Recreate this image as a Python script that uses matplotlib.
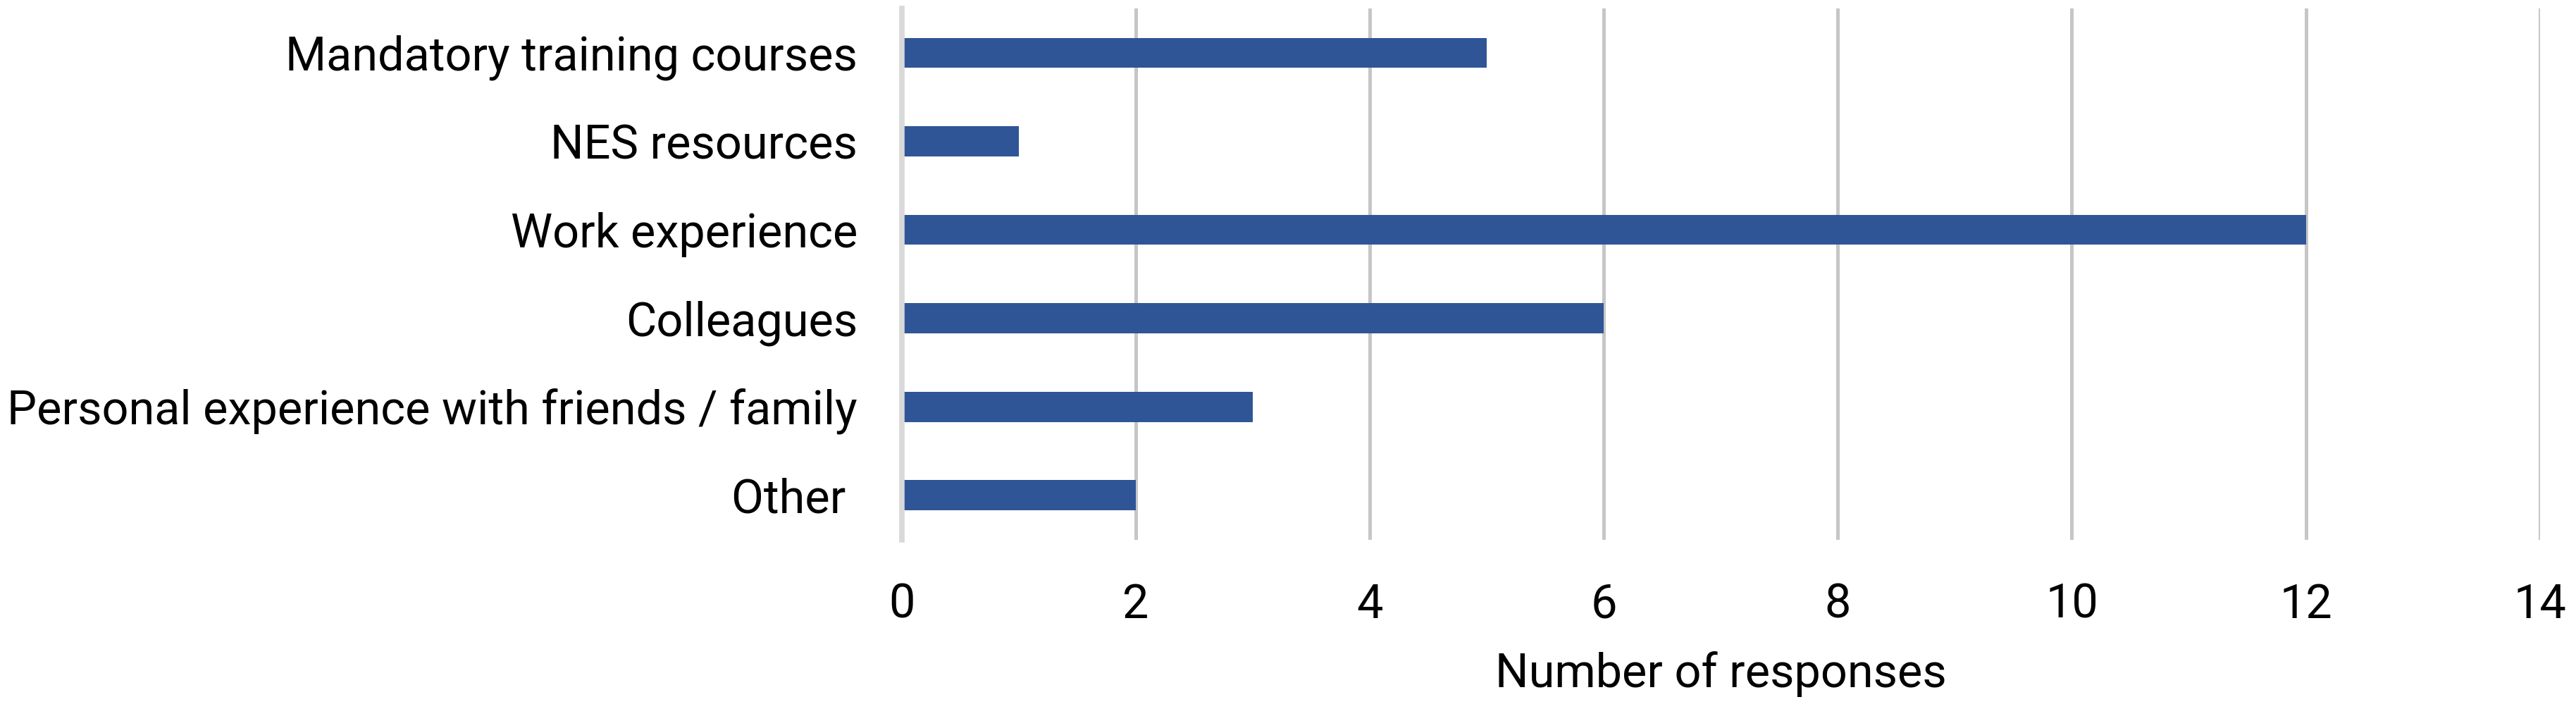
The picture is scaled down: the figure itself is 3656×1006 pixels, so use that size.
import matplotlib.pyplot as plt

plt.rcParams['font.family'] = ['Roboto', 'DejaVu Sans']

categories = ["Mandatory training courses", "NES resources", "Work experience",
              "Colleagues", "Personal experience with friends / family", "Other "]
responses = [5, 1, 12, 6, 3, 2]
x_ticks = [0, 2, 4, 6, 8, 10, 12, 14]

fig = plt.figure(figsize=(36.56, 10.06), dpi=100)
ax = fig.add_axes([0.350, 0.239, 0.636, 0.749])

ax.barh(range(len(categories)), responses, height=0.34, color='#2F5597', zorder=3)

ax.set_xlim(0, 14)
ax.set_ylim(len(categories) - 0.5, -0.5)
ax.set_xticks(x_ticks)
ax.set_yticks(range(len(categories)))
ax.set_yticklabels(categories)

ax.grid(axis='x', color='#C6C6C6', linewidth=3.6, zorder=0)
ax.grid(axis='y', visible=False)
for s in ['top', 'right', 'bottom']:
    ax.spines[s].set_visible(False)
ax.spines['left'].set_color('#D9D9D9')
ax.spines['left'].set_linewidth(5.5)
ax.spines['left'].set_zorder(4)

ax.tick_params(axis='both', length=0, labelsize=48)
ax.tick_params(axis='y', pad=45)
ax.tick_params(axis='x', pad=44)

ax.set_xlabel("Number of responses", fontsize=48, labelpad=24)

fig.savefig("out.png", dpi=100, facecolor='white')
